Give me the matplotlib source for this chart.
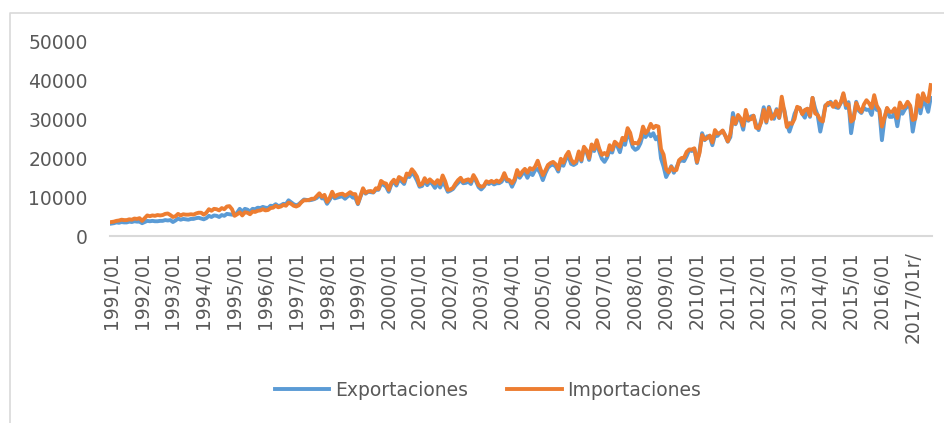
import numpy as np
import matplotlib
matplotlib.use("Agg")
import matplotlib.pyplot as plt
from matplotlib.lines import Line2D

# Datos mensuales (millones de dólares), 1991/01 - 2017/08
exportaciones = [
    3200, 3300, 3500, 3400, 3600, 3500, 3500, 3700, 3600, 3800, 3700, 3700,  # 1991
    3300, 3600, 3900, 3800, 3900, 3800, 3800, 3900, 3900, 4100, 4000, 4100,  # 1992
    3600, 4000, 4500, 4200, 4400, 4300, 4200, 4400, 4400, 4600, 4700, 4500,  # 1993
    4300, 4600, 5200, 4900, 5300, 5200, 4900, 5400, 5200, 5700, 5600, 5500,  # 1994
    5500, 6000, 7000, 6200, 7000, 6800, 6300, 7000, 6900, 7300, 7200, 7500,  # 1995
    7300, 7200, 7800, 7700, 8200, 7700, 7900, 8300, 8200, 9200, 8700, 8200,  # 1996
    7900, 8200, 8800, 9400, 9300, 9200, 9300, 9500, 9800, 10600, 9700, 9700,  # 1997
    8300, 9300, 10600, 9700, 9900, 10100, 10200, 9600, 10200, 10600, 9900, 9800,  # 1998
    8200, 10100, 11900, 10900, 11400, 11300, 11200, 11900, 11900, 13400, 13200, 12700,  # 1999
    11400, 13300, 14000, 13000, 14600, 14100, 13400, 15500, 15200, 16300, 15600, 14300,  # 2000
    12700, 12900, 14300, 13100, 14000, 13400, 12400, 13600, 12500, 13900, 12900, 11400,  # 2001
    11700, 12100, 13000, 13700, 14400, 13600, 13700, 14000, 13400, 15200, 14100, 12600,  # 2002
    12000, 12700, 13800, 13400, 13800, 13300, 13600, 13600, 14000, 15500, 14100, 14200,  # 2003
    12700, 14100, 16200, 15000, 16000, 16400, 15000, 16400, 15700, 17000, 17300, 16200,  # 2004
    14400, 16200, 17600, 18200, 18400, 17900, 16600, 19000, 18100, 19900, 20500, 18600,  # 2005
    18300, 18700, 21300, 19200, 22600, 21700, 19600, 22900, 21900, 24000, 21700, 19900,  # 2006
    19100, 20200, 22100, 21500, 23900, 23200, 21600, 24400, 23500, 26700, 25200, 22900,  # 2007
    22200, 22600, 23900, 26200, 25500, 26700, 25700, 26500, 24900, 25700, 20000, 17900,  # 2008
    15200, 16500, 18000, 16300, 17600, 19100, 19500, 19300, 20600, 22200, 21900, 22400,  # 2009
    18800, 21900, 26500, 24700, 25700, 25600, 23400, 26000, 25800, 26600, 27100, 25900,  # 2010
    24300, 25500, 31700, 28800, 30400, 29900, 27400, 31300, 29700, 30800, 31000, 28700,  # 2011
    27300, 29900, 33200, 29200, 33300, 31300, 30200, 32700, 30400, 33800, 32500, 28900,  # 2012
    26900, 28900, 31500, 32900, 33000, 31500, 30500, 32800, 30700, 35600, 32900, 31100,  # 2013
    26900, 30100, 33700, 33700, 34600, 33600, 33200, 33000, 34300, 36500, 33000, 34500,  # 2014
    26500, 30700, 34600, 32300, 31700, 33000, 32500, 32600, 31200, 34500, 32500, 32400,  # 2015
    24700, 30200, 32900, 30700, 30700, 31900, 28300, 32400, 31500, 32700, 33500, 33200,  # 2016
    26900, 30700, 35400, 31600, 35000, 34000, 32000, 35600,  # 2017
]

importaciones = [
    3600, 3700, 3900, 4000, 4200, 4100, 4100, 4300, 4200, 4500, 4400, 4600,  # 1991
    3900, 4600, 5300, 5100, 5300, 5200, 5400, 5300, 5400, 5700, 5800, 5400,  # 1992
    4900, 5100, 5700, 5300, 5600, 5500, 5500, 5600, 5500, 5800, 6000, 6000,  # 1993
    5500, 6000, 6900, 6500, 7000, 6900, 6600, 7200, 6900, 7600, 7700, 6900,  # 1994
    5200, 5600, 6100, 5300, 6100, 6000, 5600, 6300, 6200, 6500, 6600, 6900,  # 1995
    6600, 6700, 7200, 7300, 7800, 7400, 7600, 8000, 7800, 8600, 8300, 7800,  # 1996
    7600, 7900, 8700, 9200, 9200, 9300, 9600, 9600, 10300, 11000, 10100, 10600,  # 1997
    8800, 9800, 11400, 10100, 10600, 10800, 10900, 10400, 10800, 11300, 10800, 10800,  # 1998
    8400, 10300, 12300, 11100, 11500, 11600, 11300, 12300, 12100, 14200, 13700, 13500,  # 1999
    11900, 13700, 14500, 13500, 15200, 14800, 14000, 16100, 15800, 17200, 16400, 15300,  # 2000
    13100, 13400, 14900, 13800, 14600, 14000, 13500, 14400, 13400, 15600, 14100, 11900,  # 2001
    12000, 12400, 13500, 14400, 15000, 14000, 14400, 14600, 14000, 15700, 14600, 13100,  # 2002
    12700, 12900, 14100, 13800, 14200, 13800, 14300, 13900, 14600, 16200, 14600, 14400,  # 2003
    13600, 14600, 17000, 15600, 16600, 17300, 16300, 17500, 17100, 17900, 19400, 17400,  # 2004
    15700, 16900, 18300, 18800, 19100, 18500, 17200, 19900, 18900, 20700, 21700, 19700,  # 2005
    18800, 19300, 21800, 19600, 23000, 22100, 20100, 23600, 22400, 24700, 22400, 20900,  # 2006
    21400, 20800, 23400, 22200, 24300, 23700, 23000, 25300, 24700, 27800, 26600, 23800,  # 2007
    24000, 23800, 25200, 28200, 26500, 27300, 28900, 27800, 28400, 28200, 22400, 21000,  # 2008
    17200, 16400, 17800, 16900, 17000, 19500, 20100, 20200, 21700, 22300, 22300, 22600,  # 2009
    19100, 21400, 26000, 24900, 25200, 25900, 24100, 27300, 26400, 26500, 27200, 25900,  # 2010
    24400, 26300, 30500, 29000, 31200, 30300, 28400, 32500, 30000, 30100, 31000, 27900,  # 2011
    27800, 29300, 32500, 29500, 33000, 30200, 31000, 32400, 30500, 35900, 32200, 28100,  # 2012
    29100, 28900, 30200, 33300, 33000, 31400, 32500, 32800, 31000, 35600, 31600, 31200,  # 2013
    29900, 29500, 33500, 34300, 34300, 33300, 34700, 33300, 34400, 36800, 33800, 33900,  # 2014
    29500, 30100, 34300, 32800, 32000, 33900, 35000, 34200, 33000, 36300, 33600, 32500,  # 2015
    28200, 30500, 33000, 32000, 32000, 32900, 30400, 34400, 33000, 33400, 34600, 33600,  # 2016
    29900, 30200, 36300, 33300, 36800, 35100, 34600, 38900,  # 2017
]

etiquetas = ["1991/01", "1992/01", "1993/01", "1994/01", "1995/01", "1996/01",
             "1997/01", "1998/01", "1999/01", "2000/01", "2001/01", "2002/01",
             "2003/01", "2004/01", "2005/01", "2006/01", "2007/01", "2008/01",
             "2009/01", "2010/01", "2011/01", "2012/01", "2013/01", "2014/01",
             "2015/01", "2016/01", "2017/01r/"]

azul = "#5B9BD5"
naranja = "#ED7D31"
gris = "#595959"

n = len(exportaciones)
x = np.arange(n)

fig = plt.figure(figsize=(9.45, 4.23), dpi=100)
# borde del área del gráfico (solo izquierda y arriba quedan dentro de la imagen)
fig.add_artist(Line2D([10 / 945, 10 / 945, 1], [0, 1 - 13 / 423, 1 - 13 / 423],
                      transform=fig.transFigure, color="#D9D9D9", lw=1.2))

ax = fig.add_axes([110 / 945, 1 - 236 / 423, 822 / 945, 194 / 423])
ax.plot(x, exportaciones, color=azul, lw=2.8, label="Exportaciones",
        solid_joinstyle="round")
ax.plot(x, importaciones, color=naranja, lw=2.8, label="Importaciones",
        solid_joinstyle="round")

ax.set_xlim(-0.5, n - 0.5)
ax.set_ylim(0, 50000)
ax.set_yticks(np.arange(0, 50001, 10000))
ax.set_xticks(np.arange(0, n, 12))
ax.set_xticklabels(etiquetas, rotation=90)

for s in ["top", "right", "left"]:
    ax.spines[s].set_visible(False)
ax.spines["bottom"].set_color("#D9D9D9")
ax.spines["bottom"].set_linewidth(1.5)
ax.tick_params(axis="both", length=0, colors=gris, labelsize=13.5)
ax.tick_params(axis="x", pad=11)
ax.tick_params(axis="y", pad=16)

fig.legend(loc="center", bbox_to_anchor=(488 / 945, 1 - 390 / 423), ncol=2,
           frameon=False, handlelength=2.9, handletextpad=0.3,
           columnspacing=2.1, prop={"size": 13.5}, labelcolor=gris)

fig.savefig("out.png", dpi=100)
